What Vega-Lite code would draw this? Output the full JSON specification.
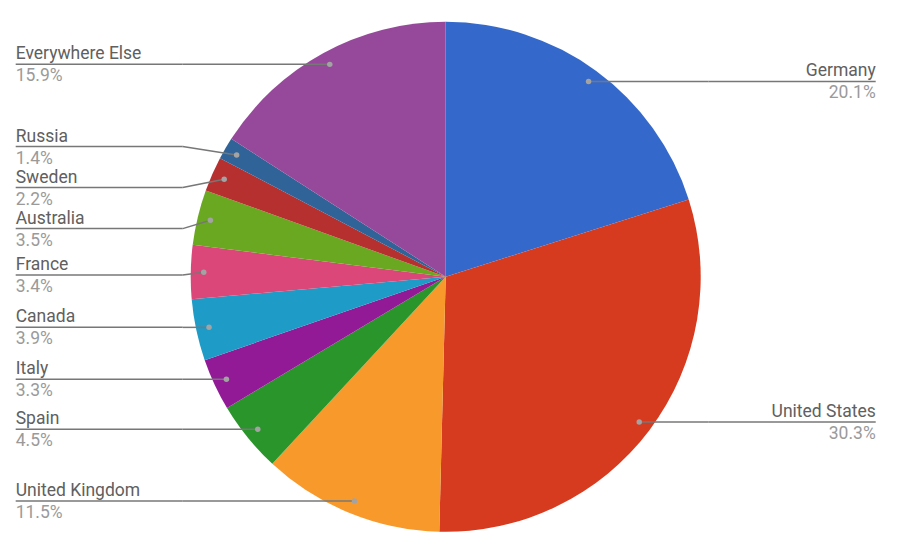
{
  "$schema": "https://vega.github.io/schema/vega-lite/v6.json",
  "width": 900,
  "height": 556,
  "autosize": {"type": "fit", "contains": "padding"},
  "padding": 0,
  "background": "white",
  "config": {"view": {"stroke": null}, "font": "Roboto"},
  "data": {
    "values": [
      {"country": "Germany", "share": 20.1},
      {"country": "United States", "share": 30.3},
      {"country": "United Kingdom", "share": 11.5},
      {"country": "Spain", "share": 4.5},
      {"country": "Italy", "share": 3.3},
      {"country": "Canada", "share": 3.9},
      {"country": "France", "share": 3.4},
      {"country": "Australia", "share": 3.5},
      {"country": "Sweden", "share": 2.2},
      {"country": "Russia", "share": 1.4},
      {"country": "Everywhere Else", "share": 15.9}
    ]
  },
  "transform": [
    {"window": [{"op": "row_number", "as": "idx"}]},
    {"joinaggregate": [{"op": "sum", "field": "share", "as": "total"}]},
    {"window": [{"op": "sum", "field": "share", "as": "cum"}], "sort": [{"field": "idx"}], "frame": [null, 0]},
    {"calculate": "2*PI*(datum.cum - datum.share/2)/datum.total", "as": "mid"},
    {"calculate": "242*sin(datum.mid)", "as": "dx"},
    {"calculate": "-242*cos(datum.mid)", "as": "dy"},
    {"calculate": "datum.dx < 0 ? 'L' : 'R'", "as": "side"},
    {"window": [{"op": "row_number", "as": "rk"}], "groupby": ["side"], "sort": [{"field": "dy"}]},
    {"calculate": "datum.dy - 41*(datum.rk-1)", "as": "e"},
    {"window": [{"op": "max", "field": "e", "as": "emax"}], "groupby": ["side"], "sort": [{"field": "dy"}], "frame": [null, 0]},
    {"window": [{"op": "min", "field": "e", "as": "emin"}], "groupby": ["side"], "sort": [{"field": "dy"}], "frame": [0, null]},
    {"calculate": "41*(datum.rk-1) + (datum.emax + datum.emin)/2", "as": "ly"},
    {"calculate": "datum.side == 'L' ? -430 : 430", "as": "edgeX"},
    {"calculate": "datum.side == 'L' ? -263 : 263", "as": "elbowX"},
    {"calculate": "format(datum.share, '.1f') + '%'", "as": "pct"}
  ],
  "layer": [
    {
      "mark": {"type": "arc", "radius": 255},
      "encoding": {
        "theta": {"field": "share", "type": "quantitative", "stack": true},
        "order": {"field": "idx", "type": "quantitative"},
        "color": {
          "field": "country",
          "type": "nominal",
          "legend": null,
          "scale": {
            "domain": ["Germany", "United States", "United Kingdom", "Spain", "Italy", "Canada", "France", "Australia", "Sweden", "Russia", "Everywhere Else"],
            "range": ["#3469cb", "#d63b1f", "#f89a2b", "#29952a", "#931a97", "#1f9bc8", "#da4778", "#6aa821", "#b5302e", "#306397", "#96499a"]
          }
        },
        "x": {"datum": 0, "type": "quantitative", "axis": null, "scale": {"domain": [-445.7, 454.3], "nice": false, "zero": false}},
        "y": {"datum": 0, "type": "quantitative", "axis": null, "scale": {"domain": [-276.8, 279.2], "nice": false, "zero": false, "reverse": true}}
      }
    },
    {
      "mark": {"type": "rule", "color": "#777777", "strokeWidth": 1.5},
      "encoding": {
        "x": {"field": "edgeX", "type": "quantitative", "axis": null, "scale": {"domain": [-445.7, 454.3], "nice": false, "zero": false}},
        "x2": {"field": "elbowX"},
        "y": {"field": "ly", "type": "quantitative", "axis": null, "scale": {"domain": [-276.8, 279.2], "nice": false, "zero": false, "reverse": true}}
      }
    },
    {
      "mark": {"type": "rule", "color": "#777777", "strokeWidth": 1.5},
      "encoding": {
        "x": {"field": "elbowX", "type": "quantitative", "axis": null, "scale": {"domain": [-445.7, 454.3], "nice": false, "zero": false}},
        "x2": {"field": "dx"},
        "y": {"field": "ly", "type": "quantitative", "axis": null, "scale": {"domain": [-276.8, 279.2], "nice": false, "zero": false, "reverse": true}},
        "y2": {"field": "dy"}
      }
    },
    {
      "mark": {"type": "point", "filled": true, "size": 30, "color": "#a3a3a3", "opacity": 1},
      "encoding": {
        "x": {"field": "dx", "type": "quantitative", "axis": null, "scale": {"domain": [-445.7, 454.3], "nice": false, "zero": false}},
        "y": {"field": "dy", "type": "quantitative", "axis": null, "scale": {"domain": [-276.8, 279.2], "nice": false, "zero": false, "reverse": true}}
      }
    },
    {
      "transform": [{"filter": "datum.side == 'L'"}],
      "mark": {"type": "text", "align": "left", "baseline": "alphabetic", "dy": -5, "fontSize": 17.5, "color": "#606060"},
      "encoding": {
        "x": {"field": "edgeX", "type": "quantitative", "axis": null, "scale": {"domain": [-445.7, 454.3], "nice": false, "zero": false}},
        "y": {"field": "ly", "type": "quantitative", "axis": null, "scale": {"domain": [-276.8, 279.2], "nice": false, "zero": false, "reverse": true}},
        "text": {"field": "country"}
      }
    },
    {
      "transform": [{"filter": "datum.side == 'L'"}],
      "mark": {"type": "text", "align": "left", "baseline": "alphabetic", "dy": 17, "fontSize": 17.5, "color": "#9a9a9a"},
      "encoding": {
        "x": {"field": "edgeX", "type": "quantitative", "axis": null, "scale": {"domain": [-445.7, 454.3], "nice": false, "zero": false}},
        "y": {"field": "ly", "type": "quantitative", "axis": null, "scale": {"domain": [-276.8, 279.2], "nice": false, "zero": false, "reverse": true}},
        "text": {"field": "pct"}
      }
    },
    {
      "transform": [{"filter": "datum.side == 'R'"}],
      "mark": {"type": "text", "align": "right", "baseline": "alphabetic", "dy": -5, "fontSize": 17.5, "color": "#606060"},
      "encoding": {
        "x": {"field": "edgeX", "type": "quantitative", "axis": null, "scale": {"domain": [-445.7, 454.3], "nice": false, "zero": false}},
        "y": {"field": "ly", "type": "quantitative", "axis": null, "scale": {"domain": [-276.8, 279.2], "nice": false, "zero": false, "reverse": true}},
        "text": {"field": "country"}
      }
    },
    {
      "transform": [{"filter": "datum.side == 'R'"}],
      "mark": {"type": "text", "align": "right", "baseline": "alphabetic", "dy": 17, "fontSize": 17.5, "color": "#9a9a9a"},
      "encoding": {
        "x": {"field": "edgeX", "type": "quantitative", "axis": null, "scale": {"domain": [-445.7, 454.3], "nice": false, "zero": false}},
        "y": {"field": "ly", "type": "quantitative", "axis": null, "scale": {"domain": [-276.8, 279.2], "nice": false, "zero": false, "reverse": true}},
        "text": {"field": "pct"}
      }
    }
  ]
}
